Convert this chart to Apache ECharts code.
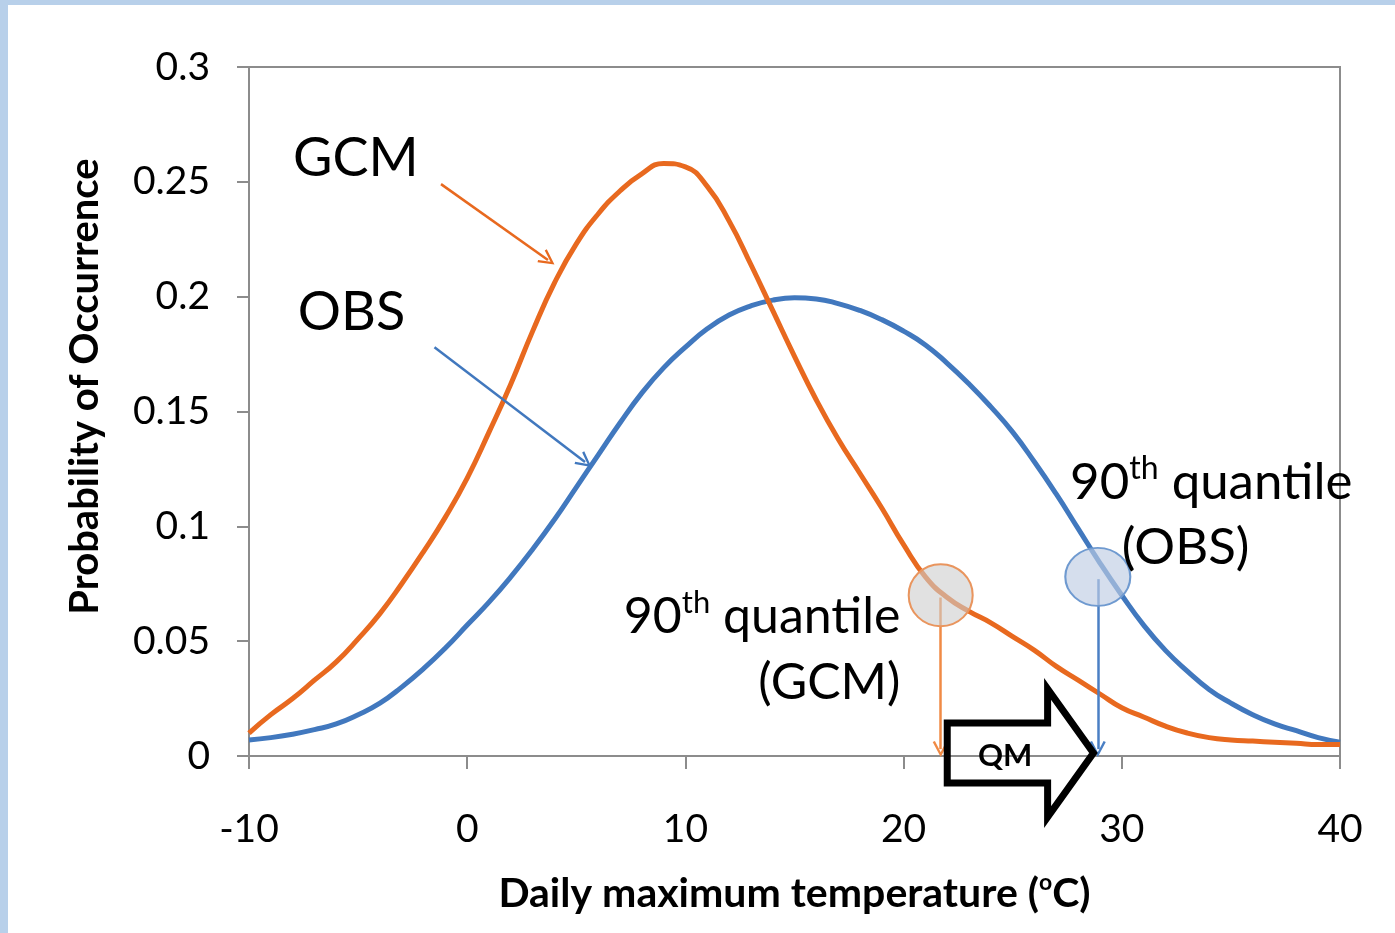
<!DOCTYPE html>
<html>
<head>
<meta charset="utf-8">
<script src="https://cdn.jsdelivr.net/npm/echarts@6/dist/echarts.min.js"></script>
<style>
html,body{margin:0;padding:0;background:#ffffff;}
#c{width:1395px;height:933px;}
</style>
</head>
<body>
<div id="c"></div>
<script>
// Temperature grid (°C)
const temps = [-10,-9,-8,-7,-6,-5,-4,-3,-2,-1,0,1,2,3,4,5,6,7,8,9,10,11,12,13,14,15,16,17,18,19,20,21,22,23,24,25,26,27,28,29,30,31,32,33,34,35,36,37,38,39,40];
// GCM probability of occurrence
const gcmValues = [0.010,0.018,0.025,0.033,0.041,0.051,0.062,0.075,0.089,0.104,0.121,0.141,0.162,0.185,0.206,0.223,0.236,0.246,0.2535,0.258,0.2565,0.248,0.233,0.214,0.194,0.174,0.155,0.138,0.123,0.108,0.092,0.078,0.069,0.063,0.058,0.052,0.046,0.039,0.033,0.027,0.021,0.017,0.013,0.010,0.008,0.007,0.0065,0.006,0.0055,0.005,0.005];
// OBS probability of occurrence
const obsValues = [0.007,0.008,0.0095,0.0115,0.014,0.018,0.023,0.030,0.038,0.047,0.057,0.067,0.078,0.090,0.103,0.117,0.131,0.145,0.158,0.169,0.178,0.186,0.192,0.196,0.1985,0.1995,0.199,0.197,0.194,0.190,0.185,0.179,0.171,0.162,0.152,0.141,0.128,0.114,0.099,0.084,0.070,0.057,0.046,0.037,0.029,0.023,0.018,0.014,0.011,0.008,0.006];
// Axis tick labels
const xTickLabels = ['-10','0','10','20','30','40'];
const yTickLabels = ['0','0.05','0.1','0.15','0.2','0.25','0.3'];
// Annotation anchors (data coordinates)
const gcmQuantile = [21.7, 0.070];
const obsQuantile = [28.9, 0.078];
const gcmLabelPos = [-5.1, 0.260];
const obsLabelPos = [-5.3, 0.193];
const gcmArrow = [[-1.2, 0.249], [3.7, 0.216]];
const obsArrow = [[-1.5, 0.178], [5.4, 0.128]];
const qmArrowX = [22.0, 26.6, 28.7];

const ORANGE = '#E8691F';
const BLUE = '#4178BE';
const FONT = 'Lato';

const gcmData = temps.map((t, i) => [t, gcmValues[i]]);
const obsData = temps.map((t, i) => [t, obsValues[i]]);

const chevron = 'path://M0,10 L5,0 L10,10 L8.6,10.6 L5,3.2 L1.4,10.6 Z';

const chart = echarts.init(document.getElementById('c'), null, {renderer: 'canvas'});

const option = {
  backgroundColor: '#ffffff',
  animation: false,
  grid: {left: 249, top: 67, right: 55, bottom: 177, show: true, borderColor: '#8c8c8c', borderWidth: 2, containLabel: false},
  xAxis: {
    type: 'value', min: -10, max: 40, interval: 10,
    axisLine: {onZero: false, lineStyle: {color: '#8c8c8c', width: 2}},
    axisTick: {show: true, length: 13, lineStyle: {color: '#8c8c8c', width: 2}},
    splitLine: {show: false},
    axisLabel: {margin: 54, fontSize: 39, fontFamily: FONT, color: '#000',
      formatter: v => xTickLabels[Math.round((v + 10) / 10)]},
    name: '{b|Daily maximum temperature (}{s|o}{b|C)}',
    nameLocation: 'middle', nameGap: 115,
    nameTextStyle: {rich: {
      b: {fontSize: 41, fontWeight: 'bold', fontFamily: FONT, color: '#000', lineHeight: 46},
      s: {fontSize: 23, fontWeight: 'bold', fontFamily: FONT, color: '#000', verticalAlign: 'top', lineHeight: 46, padding: [0, 0, 17, 0]}
    }}
  },
  yAxis: {
    type: 'value', min: 0, max: 0.3, interval: 0.05,
    axisLine: {show: true, onZero: false, lineStyle: {color: '#8c8c8c', width: 2}},
    axisTick: {show: true, length: 12, lineStyle: {color: '#8c8c8c', width: 2}},
    splitLine: {show: false},
    axisLabel: {margin: 39, fontSize: 39, fontFamily: FONT, color: '#000',
      formatter: v => yTickLabels[Math.round(v / 0.05)]},
    name: 'Probability of Occurrence',
    nameLocation: 'middle', nameGap: 144, nameRotate: 90,
    nameTextStyle: {fontSize: 40, fontWeight: 'bold', fontFamily: FONT, color: '#000', padding: [0, 0, 0, 50]}
  },
  series: [
    {
      name: 'OBS', type: 'line', data: obsData, smooth: true, symbol: 'none',
      lineStyle: {color: BLUE, width: 5}, z: 2,
      markLine: {
        silent: true, symbol: ['none', chevron], symbolSize: 16,
        label: {show: false},
        data: [
          [{coord: obsArrow[0], lineStyle: {color: BLUE, width: 2.5, type: 'solid'}}, {coord: obsArrow[1]}],
          [{coord: [obsQuantile[0], obsQuantile[1] - 0.001], lineStyle: {color: '#4a7fc4', width: 2.5, type: 'solid'}}, {coord: [obsQuantile[0], 0.003]}]
        ]
      },
      markPoint: {
        silent: true,
        data: [{coord: obsQuantile, symbol: 'circle', symbolSize: [65, 58],
          itemStyle: {color: 'rgba(190,205,228,0.65)', borderColor: '#6f9ad0', borderWidth: 2}}],
        label: {show: false}
      }
    },
    {
      name: 'GCM', type: 'line', data: gcmData, smooth: true, symbol: 'none',
      lineStyle: {color: ORANGE, width: 5}, z: 3,
      markLine: {
        silent: true, symbol: ['none', chevron], symbolSize: 16,
        label: {show: false},
        data: [
          [{coord: gcmArrow[0], lineStyle: {color: ORANGE, width: 2.5, type: 'solid'}}, {coord: gcmArrow[1]}],
          [{coord: [gcmQuantile[0], gcmQuantile[1] - 0.001], lineStyle: {color: '#F08A45', width: 2.5, type: 'solid'}}, {coord: [gcmQuantile[0], 0.003]}]
        ]
      },
      markPoint: {
        silent: true,
        data: [{coord: gcmQuantile, symbol: 'circle', symbolSize: [64, 62],
          itemStyle: {color: 'rgba(205,205,205,0.6)', borderColor: '#E9955E', borderWidth: 2}}],
        label: {show: false}
      }
    }
  ]
};
chart.setOption(option);

function px(p) { return chart.convertToPixel({gridIndex: 0}, p); }

function supText(pos, align, size) {
  const p = px(pos);
  return {
    type: 'text', x: p[0], y: p[1], z: 20,
    style: {
      text: '{n|90}{s|th}{n| quantile}',
      align: align, verticalAlign: 'middle',
      rich: {
        n: {fontSize: size, fontFamily: FONT, fill: '#000', lineHeight: size * 1.2},
        s: {fontSize: Math.round(size * 0.62), fontFamily: FONT, fill: '#000', verticalAlign: 'top', lineHeight: size * 1.2, padding: [0, 0, Math.round(size * 0.35), 0]}
      }
    }
  };
}
function plainText(str, pos, align, size, weight) {
  const p = px(pos);
  return {type: 'text', x: p[0], y: p[1], z: 20,
    style: {text: str, align: align, verticalAlign: 'middle', fontSize: size, fontFamily: FONT, fontWeight: weight || 'normal', fill: '#000'}};
}

const y0 = px([0, 0.0013])[1];
const xb = px([qmArrowX[0], 0])[0];
const xh = px([qmArrowX[1], 0])[0];
const xt = px([qmArrowX[2], 0])[0];
const bodyH = 30, headH = 64;

chart.setOption({
  graphic: [
    {type: 'rect', shape: {x: 0, y: 0, width: 1395, height: 5}, style: {fill: '#b8d0ea'}, z: 30},
    {type: 'rect', shape: {x: 0, y: 0, width: 8, height: 933}, style: {fill: '#b8d0ea'}, z: 30},
    plainText('GCM', gcmLabelPos, 'center', 54),
    plainText('OBS', obsLabelPos, 'center', 54),
    supText([19.85, 0.0605], 'right', 50),
    plainText('(GCM)', [19.85, 0.0318], 'right', 50),
    supText([27.63, 0.1189], 'left', 51),
    plainText('(OBS)', [30.0, 0.0906], 'left', 51),
    {type: 'polygon', z: 25,
      shape: {points: [[xb, y0 - bodyH], [xh, y0 - bodyH], [xh, y0 - headH], [xt, y0], [xh, y0 + headH], [xh, y0 + bodyH], [xb, y0 + bodyH]]},
      style: {fill: 'rgba(255,255,255,0)', stroke: '#000', lineWidth: 7, lineJoin: 'miter'}},
    plainText('QM', [24.65, 0.0], 'center', 31, 'bold')
  ]
});
</script>
</body>
</html>
